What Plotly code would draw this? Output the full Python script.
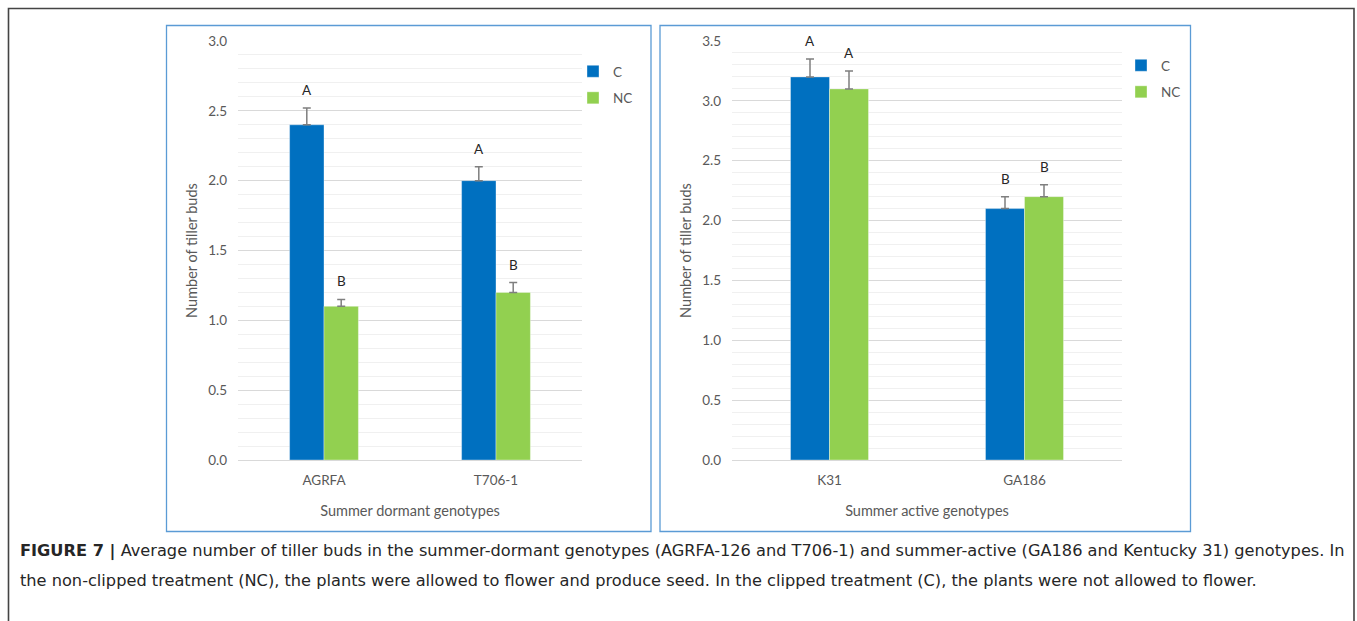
import plotly.graph_objects as go

# ---------------- data ----------------
dormant_genotypes = ["AGRFA", "T706-1"]
dormant_C = [2.4, 2.0]
dormant_NC = [1.1, 1.2]
dormant_C_err = [0.12, 0.10]
dormant_NC_err = [0.05, 0.07]
dormant_C_letters = ["A", "A"]
dormant_NC_letters = ["B", "B"]

active_genotypes = ["K31", "GA186"]
active_C = [3.2, 2.1]
active_NC = [3.1, 2.2]
active_C_err = [0.15, 0.10]
active_NC_err = [0.15, 0.10]
active_C_letters = ["A", "B"]
active_NC_letters = ["A", "B"]

series_names = ["C", "NC"]
y_title = "Number of tiller buds"
x_titles = ["Summer dormant genotypes", "Summer active genotypes"]
caption_line1 = ("<b>FIGURE 7 |</b> Average number of tiller buds in the summer-dormant genotypes "
                 "(AGRFA-126 and T706-1) and summer-active (GA186 and Kentucky 31) genotypes. In")
caption_line2 = ("the non-clipped treatment (NC), the plants were allowed to flower and produce seed. "
                 "In the clipped treatment (C), the plants were not allowed to flower.")

# ---------------- styling ----------------
W, H = 1357, 621
BLUE = "#0070C0"
GREEN = "#92D050"
GRAY_TXT = "#595959"
FONT = "Lato"
BARGAP = 0.6

def px(x):
    return x / W

def py(y):
    return 1 - y / H

left_dom = [px(238), px(582)]
right_dom = [px(732), px(1122)]
y_dom = [py(460), py(41)]

fig = go.Figure()

def add_panel(cats, c, nc, ce, nce, xa, ya, legend):
    for name, vals, errs, col in [(series_names[0], c, ce, BLUE), (series_names[1], nc, nce, GREEN)]:
        fig.add_trace(go.Bar(
            x=cats, y=vals, name=name, marker=dict(color=col, line=dict(color="rgba(255,255,255,0.6)", width=0.6)),
            error_y=dict(type="data", array=errs, arrayminus=[0] * len(errs), symmetric=False,
                         color="#7f7f7f", thickness=1.5, width=4),
            xaxis=xa, yaxis=ya, legend=legend, legendgroup=legend + name,
        ))

add_panel(dormant_genotypes, dormant_C, dormant_NC, dormant_C_err, dormant_NC_err, "x", "y", "legend")
add_panel(active_genotypes, active_C, active_NC, active_C_err, active_NC_err, "x2", "y2", "legend2")

# letters above error bars
def add_letters(cats, vals, errs, letters, side, xref, yref, dom):
    plot_w = (dom[1] - dom[0]) * W
    half_bar = plot_w / len(cats) * (1 - BARGAP) / 4
    for cat, v, e, t in zip(cats, vals, errs, letters):
        fig.add_annotation(x=cat, y=v + e, xref=xref, yref=yref, text=t, showarrow=False,
                           xshift=side * half_bar, yshift=8, yanchor="bottom",
                           font=dict(family=FONT, size=13.5, color="#262626"))

add_letters(dormant_genotypes, dormant_C, dormant_C_err, dormant_C_letters, -1, "x", "y", left_dom)
add_letters(dormant_genotypes, dormant_NC, dormant_NC_err, dormant_NC_letters, 1, "x", "y", left_dom)
add_letters(active_genotypes, active_C, active_C_err, active_C_letters, -1, "x2", "y2", right_dom)
add_letters(active_genotypes, active_NC, active_NC_err, active_NC_letters, 1, "x2", "y2", right_dom)

tickfont = dict(family=FONT, size=13.5, color=GRAY_TXT)
titlefont = dict(family=FONT, size=14.5, color=GRAY_TXT)

def yaxis_cfg(rng, dom, anchor):
    return dict(domain=dom, range=rng, anchor=anchor, dtick=0.5, tickformat=".1f",
                showgrid=True, gridcolor="#d9d9d9", gridwidth=1,
                minor=dict(dtick=0.1, showgrid=True, gridcolor="#f0f0f0", gridwidth=1),
                zeroline=False, showline=False, ticks="", ticklabelstandoff=10,
                tickfont=tickfont, title=dict(text=y_title, font=titlefont, standoff=7),
                fixedrange=True, automargin=False)

def xaxis_cfg(dom, anchor, title):
    return dict(domain=dom, anchor=anchor, showline=True, linecolor="#d9d9d9", linewidth=1,
                ticks="", tickfont=tickfont, ticklabelstandoff=8, automargin=False,
                title=dict(text=title, font=titlefont, standoff=18))

fig.update_layout(
    width=W, height=H, margin=dict(l=0, r=0, t=0, b=0, pad=0, autoexpand=False),
    paper_bgcolor="white", plot_bgcolor="white",
    barmode="group", bargap=BARGAP, bargroupgap=0,
    xaxis=xaxis_cfg(left_dom, "y", x_titles[0]),
    yaxis=yaxis_cfg([0, 3.0], y_dom, "x"),
    xaxis2=xaxis_cfg(right_dom, "y2", x_titles[1]),
    yaxis2=yaxis_cfg([0, 3.5], y_dom, "x2"),
    legend=dict(x=px(573), y=py(56), xanchor="left", yanchor="top", traceorder="grouped",
                tracegroupgap=6, font=dict(family=FONT, size=13.5, color=GRAY_TXT),
                bgcolor="rgba(0,0,0,0)", itemwidth=30),
    legend2=dict(x=px(1121), y=py(50), xanchor="left", yanchor="top", traceorder="grouped",
                 tracegroupgap=6, font=dict(family=FONT, size=13.5, color=GRAY_TXT),
                 bgcolor="rgba(0,0,0,0)", itemwidth=30),
    showlegend=True,
)

# panel borders and outer frame
fig.add_shape(type="rect", xref="paper", yref="paper", x0=px(166.5), x1=px(651), y0=py(531.5), y1=py(25.5),
              line=dict(color="#5B9BD5", width=1.3), fillcolor="rgba(0,0,0,0)", layer="below")
fig.add_shape(type="rect", xref="paper", yref="paper", x0=px(660), x1=px(1190.5), y0=py(531.5), y1=py(25.5),
              line=dict(color="#5B9BD5", width=1.3), fillcolor="rgba(0,0,0,0)", layer="below")
fig.add_shape(type="path", xref="paper", yref="paper",
              path=f"M {px(8.5)} {py(621)} L {px(8.5)} {py(8.5)} L {px(1354)} {py(8.5)} L {px(1354)} {py(621)}",
              line=dict(color="#444444", width=1.6))

cap_font = dict(family="DejaVu Sans", size=16.2, color="#262626")
fig.add_annotation(x=px(18), y=py(551), xref="paper", yref="paper", xanchor="left", yanchor="middle",
                   text=caption_line1, showarrow=False, font=cap_font)
fig.add_annotation(x=px(18), y=py(580), xref="paper", yref="paper", xanchor="left", yanchor="middle",
                   text=caption_line2, showarrow=False, font=cap_font)

fig.write_html(
    "out.html",
    config={"displayModeBar": False},
    post_script=("document.body.style.margin='0';document.body.style.overflow='hidden';"
                 "var d=document.getElementById('{plot_id}');d.style.position='fixed';"
                 "d.style.left='0px';d.style.top='0px';"),
)
